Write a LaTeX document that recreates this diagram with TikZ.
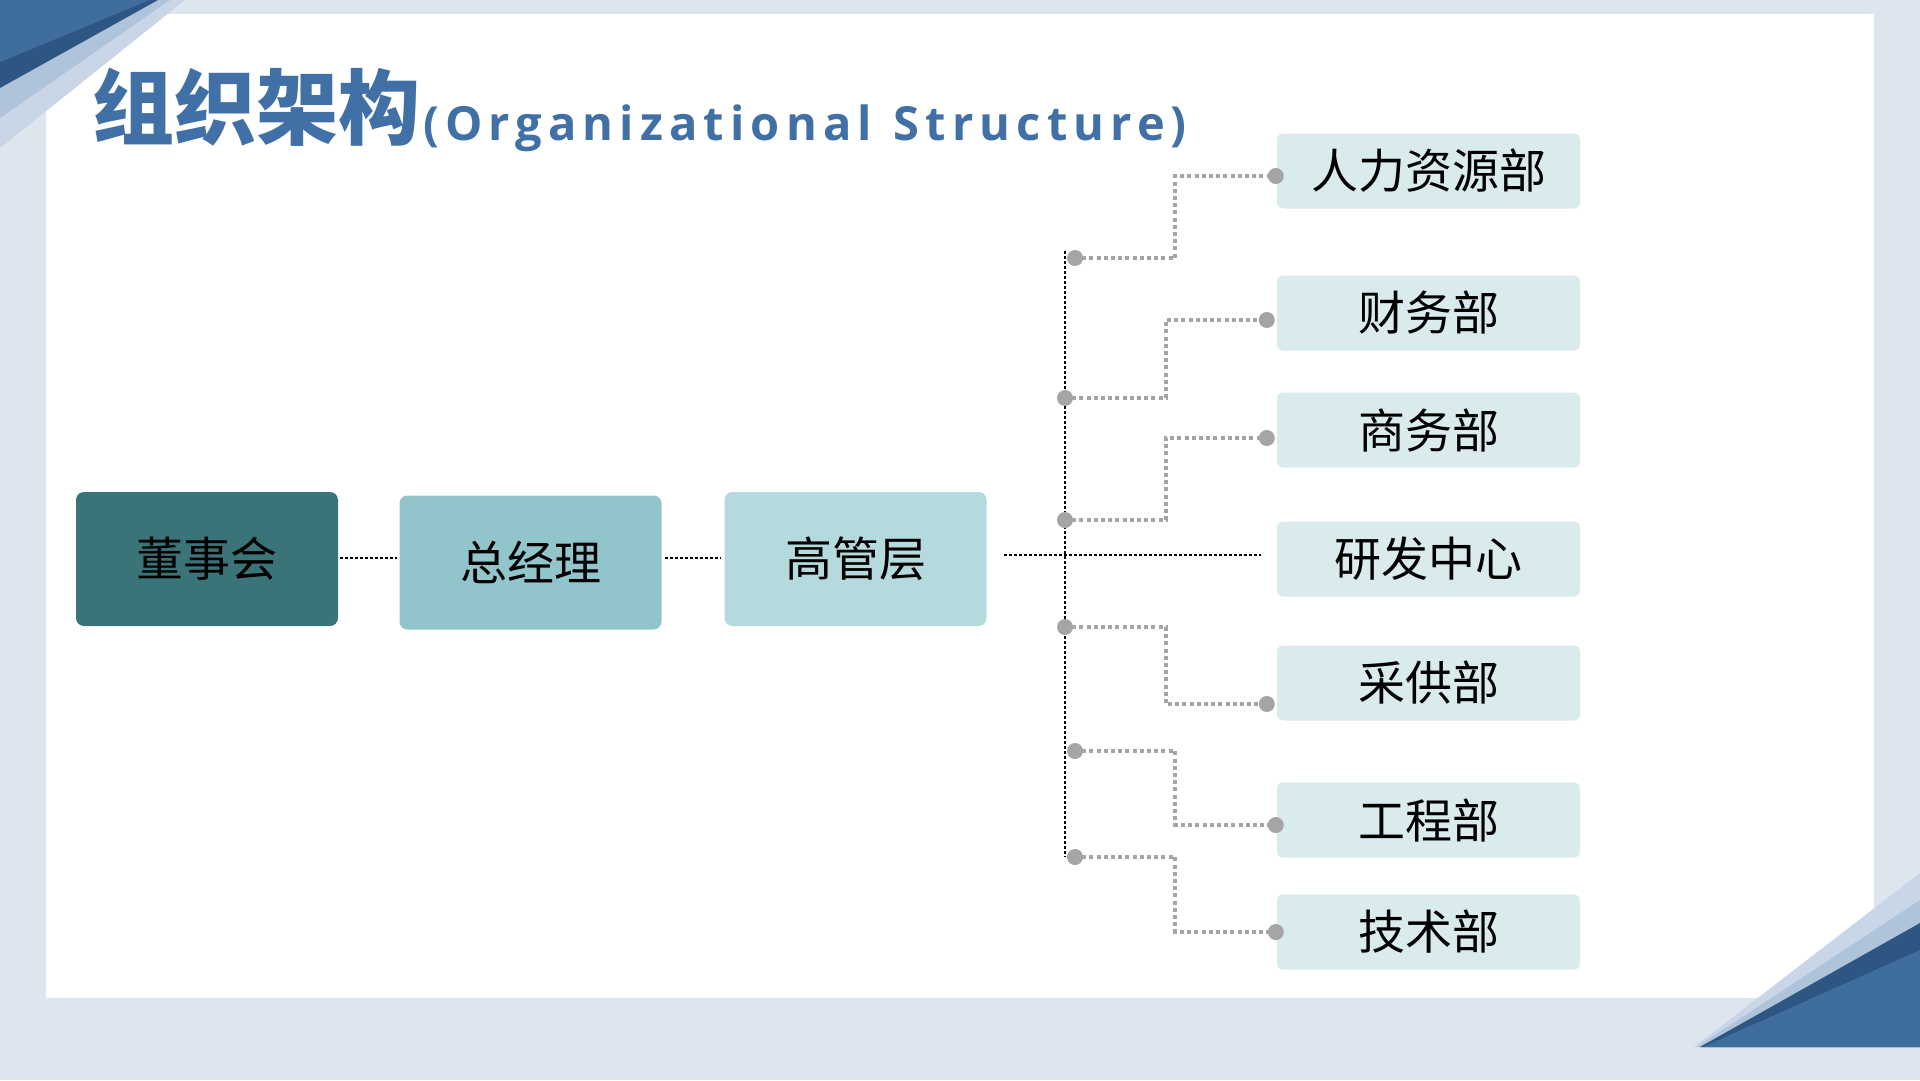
\documentclass[tikz,border=0pt]{standalone}
\usepackage{fontspec}
\usetikzlibrary{calc}
\newfontfamily\cjk{Noto Sans CJK SC}
\newfontfamily\latb{Open Sans}[LetterSpace=13, WordSpace=1.2]
\definecolor{bgc}{HTML}{DDE6EF}
\definecolor{tmain}{HTML}{3F6D9D}
\definecolor{tdark}{HTML}{2E5682}
\definecolor{tlight}{HTML}{AFC3DB}
\definecolor{tpale}{HTML}{C8D6E7}
\definecolor{titlec}{HTML}{4070A5}
\definecolor{c1}{HTML}{3A7479}
\definecolor{c2}{HTML}{92C5CB}
\definecolor{c3}{HTML}{B4DADD}
\definecolor{c4}{HTML}{DAEBEE}
\definecolor{dotgray}{HTML}{A5A5A5}
\tikzset{
  lbox/.style={rounded corners=8pt, minimum width=262pt, minimum height=134pt, inner sep=0pt,
    font=\cjk\fontsize{47}{56}\selectfont, text=black},
  rbox/.style={fill=c4, rounded corners=6pt, minimum width=303pt, minimum height=75pt, inner sep=0pt,
    font=\cjk\fontsize{47}{56}\selectfont, text=black},
  blk/.style={draw=black, line width=2.8pt, dash pattern=on 3pt off 2pt},
  gry/.style={draw=dotgray, line width=4pt, dash pattern=on 4pt off 3.2pt},
  gdot/.style={circle, fill=dotgray, inner sep=0pt, minimum size=16pt}
}
\begin{document}
\begin{tikzpicture}[x=1pt,y=-1pt]
\useasboundingbox (0,0) rectangle (1920,1080);
\fill[bgc] (0,0) rectangle (1920,1080);
\fill[white] (46,14) rectangle (1874,998);
% top-left corner
\fill[tpale] (0,0) -- (185,0) -- (0,148) -- cycle;
\fill[tlight] (0,0) -- (170,0) -- (0,118) -- cycle;
\fill[tdark] (0,0) -- (158,0) -- (0,88) -- cycle;
\fill[tmain] (0,0) -- (150,0) -- (0,62) -- cycle;
% bottom-right corner
\fill[tpale] (1694,1047) -- (1920,873) -- (1920,1047) -- cycle;
\fill[tlight] (1697,1047) -- (1920,900) -- (1920,1047) -- cycle;
\fill[tdark] (1700,1047) -- (1920,923) -- (1920,1047) -- cycle;
\fill[tmain] (1703,1047) -- (1920,950) -- (1920,1047) -- cycle;
% title
\node[anchor=base west, inner sep=0pt, text=titlec, font=\cjk\bfseries\fontsize{82}{90}\selectfont] (tcn) at (92,138) {组织架构};
\node[anchor=base west, inner sep=0pt, text=titlec, font=\latb\bfseries\fontsize{47}{52}\selectfont] (ten) at (423,140) {(Organizational Structure)};
% left boxes
\node[lbox, fill=c1] (dsh) at (207,559) {董事会};
\node[lbox, fill=c2] (zjl) at (530.5,562.5) {总经理};
\node[lbox, fill=c3] (ggc) at (855.5,559) {高管层};
% right boxes
\node[rbox] (hr) at (1428.5,171) {人力资源部};
\node[rbox] (cw) at (1428.5,313) {财务部};
\node[rbox] (sw) at (1428.5,430) {商务部};
\node[rbox] (yf) at (1428.5,559) {研发中心};
\node[rbox] (cg) at (1428.5,683) {采供部};
\node[rbox] (gc) at (1428.5,820) {工程部};
\node[rbox] (js) at (1428.5,932) {技术部};
% chain connectors
\draw[blk] ($(dsh.east)+(2,-1)$) -- ($(zjl.west)+(-2,-4.5)$);
\draw[blk] ($(zjl.east)+(3,-4.5)$) -- ($(ggc.west)+(-3,-1)$);
% trunk
\coordinate (ttop) at (1065,251);
\coordinate (tbot) at (1065,857);
\draw[blk] (ttop) -- (tbot);
\draw[blk] ($(ggc.east)+(17,-4)$) -- ($(yf.west)+(-16,-4)$);
% start points on trunk
\coordinate (s1) at (1075,258);
\coordinate (s2) at (1065,398);
\coordinate (s3) at (1065,520);
\coordinate (s5) at (1065,627);
\coordinate (s6) at (1075,751);
\coordinate (s7) at (1075,857);
% end points at boxes
\coordinate (e1) at ($(hr.west)+(-1,5)$);
\coordinate (e2) at ($(cw.west)+(-10,7)$);
\coordinate (e3) at ($(sw.west)+(-10,8)$);
\coordinate (e5) at ($(cg.west)+(-10,21)$);
\coordinate (e6) at ($(gc.west)+(-1,5)$);
\coordinate (e7) at ($(js.west)+(-1,0)$);
\foreach \i in {1,2,3,5,6,7}{
  \draw[gry] (s\i) -| ($(s\i)!0.5!(e\i)$) |- (e\i);
}
\foreach \i in {1,2,3,5,6,7}{
  \node[gdot] (ds\i) at (s\i) {};
  \node[gdot] (de\i) at (e\i) {};
}
\end{tikzpicture}
\end{document}
